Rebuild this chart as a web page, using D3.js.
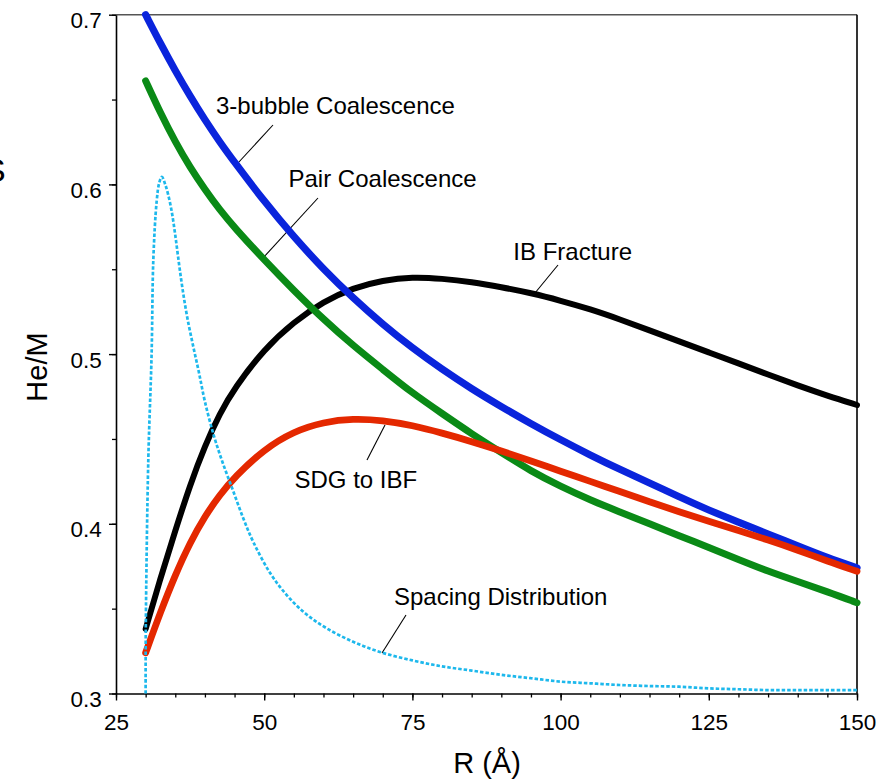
<!DOCTYPE html>
<html>
<head>
<meta charset="utf-8">
<script src="https://cdn.jsdelivr.net/npm/d3@7"></script>
<style>
  body { margin: 0; background: #fff; }
  text { font-family: "Liberation Sans", Arial, Helvetica, sans-serif; fill: #000; }
</style>
</head>
<body>
<svg id="chart" width="886" height="782"></svg>
<script>
// Bubble radius grid (Å) shared by the four model curves
const radii = [30, 32.5, 35, 37.5, 40, 42.5, 45, 50, 55, 60, 65, 70, 75, 80, 85, 90,
               95, 100, 105, 110, 115, 120, 125, 130, 135, 140, 145, 150];

// He/M thresholds for each mechanism
const threeBubble = [0.700, 0.683, 0.667, 0.652, 0.638, 0.625, 0.613, 0.590, 0.569, 0.550,
                     0.533, 0.5175, 0.5035, 0.491, 0.4795, 0.469, 0.459, 0.4495, 0.4405, 0.432,
                     0.424, 0.416, 0.408, 0.401, 0.394, 0.387, 0.380, 0.374];
const pairCoalescence = [0.661, 0.642, 0.625, 0.610, 0.597, 0.585, 0.5745, 0.5555, 0.5375, 0.5205,
                         0.505, 0.491, 0.477, 0.465, 0.453, 0.442, 0.431, 0.422, 0.414, 0.407,
                         0.400, 0.393, 0.386, 0.379, 0.372, 0.366, 0.360, 0.3535];
const ibFracture = [0.338, 0.368, 0.396, 0.423, 0.446, 0.465, 0.480, 0.503, 0.519, 0.531,
                    0.539, 0.5435, 0.5455, 0.5445, 0.5425, 0.5395, 0.536, 0.5315, 0.5265, 0.5205,
                    0.514, 0.5075, 0.501, 0.4945, 0.488, 0.4815, 0.4755, 0.470];
const sdgToIbf = [0.324, 0.348, 0.370, 0.389, 0.4045, 0.417, 0.4275, 0.444, 0.4545, 0.460,
                  0.462, 0.461, 0.458, 0.4535, 0.4485, 0.443, 0.437, 0.431, 0.425, 0.419,
                  0.413, 0.407, 0.4015, 0.396, 0.3905, 0.3845, 0.378, 0.372];

// Bubble spacing distribution (scaled onto the He/M axis)
const spacingR = [30.0, 30.03, 30.45, 31.0, 31.3, 31.86, 32.3, 32.75, 33.3, 33.8, 34.4, 35.0,
                  35.6, 36.2, 37.0, 38.0, 39.0, 40.0, 41.5, 43.0, 44.8, 46.5, 48.2, 51, 53.8, 57,
                  60.5, 65, 69.5, 75, 80, 85, 90, 95, 100, 105, 110, 115, 120, 125, 130,
                  135, 140, 145, 150];
const spacingVals = [0.300, 0.340, 0.438, 0.499, 0.556, 0.590, 0.601, 0.6045, 0.600, 0.594,
                     0.584, 0.570, 0.554, 0.539, 0.522, 0.505, 0.489, 0.472, 0.452, 0.436,
                     0.419, 0.403, 0.389, 0.371, 0.358, 0.347, 0.3385, 0.3305, 0.3245, 0.3195,
                     0.316, 0.3135, 0.311, 0.309, 0.307, 0.306, 0.305, 0.3044, 0.304, 0.303,
                     0.3025, 0.302, 0.302, 0.302, 0.302];

const xTicks = [25, 50, 75, 100, 125, 150];
const yTicks = [0.3, 0.4, 0.5, 0.6, 0.7];
const yTickLabels = ["0.3", "0.4", "0.5", "0.6", "0.7"];

const svg = d3.select("#chart");
svg.append("rect").attr("width", 886).attr("height", 782).attr("fill", "#fff");

const plotLeft = 116, plotRight = 857, plotTop = 14.7, plotBottom = 693.5;
const x = d3.scaleLinear().domain([25, 150]).range([plotLeft, plotRight]);
const y = d3.scaleLinear().domain([0.3, 0.7]).range([plotBottom, plotTop]);

// frame: grey top edge, black right edge
svg.append("line").attr("x1", plotLeft).attr("x2", plotRight).attr("y1", plotTop).attr("y2", plotTop)
  .attr("stroke", "#555").attr("stroke-width", 1.6);
svg.append("line").attr("x1", plotRight).attr("x2", plotRight).attr("y1", plotTop).attr("y2", plotBottom)
  .attr("stroke", "#000").attr("stroke-width", 1.6);

// minor ticks
svg.append("g").attr("transform", `translate(0,${plotBottom})`)
  .call(d3.axisBottom(x).tickValues(d3.range(25, 151, 5)).tickSize(4).tickSizeOuter(0).tickFormat(""))
  .call(g => g.select(".domain").remove())
  .call(g => g.selectAll("line").attr("stroke-width", 1.3));
svg.append("g").attr("transform", `translate(${plotLeft},0)`)
  .call(d3.axisLeft(y).tickValues(d3.range(0.3, 0.701, 0.05)).tickSize(4).tickSizeOuter(0).tickFormat(""))
  .call(g => g.select(".domain").remove())
  .call(g => g.selectAll("line").attr("stroke-width", 1.3));

// major axes
const xAxis = svg.append("g").attr("transform", `translate(0,${plotBottom})`)
  .call(d3.axisBottom(x).tickValues(xTicks).tickSize(7).tickSizeOuter(0).tickPadding(13.5).tickFormat(d3.format("d")));
xAxis.select(".domain").attr("stroke-width", 1.6);
xAxis.selectAll("line").attr("stroke-width", 1.4);
xAxis.selectAll("text").attr("font-size", 22.5);
xAxis.attr("font-family", null);

const yAxis = svg.append("g").attr("transform", `translate(${plotLeft},0)`)
  .call(d3.axisLeft(y).tickValues(yTicks).tickSize(7).tickSizeOuter(0).tickPadding(7.3)
    .tickFormat((d, i) => yTickLabels[i]));
yAxis.select(".domain").attr("stroke-width", 1.6);
yAxis.selectAll("line").attr("stroke-width", 1.4);
yAxis.selectAll("text").attr("font-size", 22.5).attr("dy", "0.58em");
yAxis.attr("font-family", null);

// axis titles
svg.append("text").attr("x", 487).attr("y", 773).attr("text-anchor", "middle")
  .attr("font-size", 29).text("R (Å)");
svg.append("text").attr("transform", "translate(46.5,367) rotate(-90)").attr("text-anchor", "middle")
  .attr("font-size", 29).text("He/M");

// partial glyph at the left margin
svg.append("text").attr("x", -17).attr("y", 182).attr("font-size", 34).text("S");

// callout leaders
const leaders = [
  [273, 125, 238, 163],
  [318, 198, 263, 258],
  [558, 265, 535, 293],
  [385, 425, 367, 460],
  [406, 615, 382, 653]
];
svg.append("g").selectAll("line").data(leaders).join("line")
  .attr("x1", d => d[0]).attr("y1", d => d[1]).attr("x2", d => d[2]).attr("y2", d => d[3])
  .attr("stroke", "#000").attr("stroke-width", 1.1);

// model curves (B-spline through the sampled thresholds)
const smoothLine = d3.line().x(d => x(d[0])).y(d => y(d[1])).curve(d3.curveBasis);
const series = [
  { vals: ibFracture, color: "#000000", width: 6 },
  { vals: pairCoalescence, color: "#0a8a16", width: 7 },
  { vals: threeBubble, color: "#0a24dc", width: 7.2 },
  { vals: sdgToIbf, color: "#e42800", width: 6.8 }
];
series.forEach(s => {
  svg.append("path")
    .datum(radii.map((r, i) => [r, s.vals[i]]))
    .attr("d", smoothLine)
    .attr("fill", "none")
    .attr("stroke", s.color)
    .attr("stroke-width", s.width)
    .attr("stroke-linecap", "round")
    .attr("stroke-linejoin", "round");
});

// spacing distribution, dotted
const spacingLine = d3.line().x(d => x(d[0])).y(d => y(d[1])).curve(d3.curveCatmullRom.alpha(0.5));
svg.append("path")
  .datum(spacingR.map((r, i) => [r, spacingVals[i]]))
  .attr("d", spacingLine)
  .attr("fill", "none")
  .attr("stroke", "#1db8ec")
  .attr("stroke-width", 2.7)
  .attr("stroke-dasharray", "3.5,2");

// curve labels
const labels = [
  ["3-bubble Coalescence", 216, 114.3],
  ["Pair Coalescence", 288.5, 187.3],
  ["IB Fracture", 513.3, 260],
  ["SDG to IBF", 294.5, 488],
  ["Spacing Distribution", 394, 605]
];
svg.append("g").selectAll("text").data(labels).join("text")
  .attr("x", d => d[1]).attr("y", d => d[2]).attr("font-size", 24).text(d => d[0]);
</script>
</body>
</html>
